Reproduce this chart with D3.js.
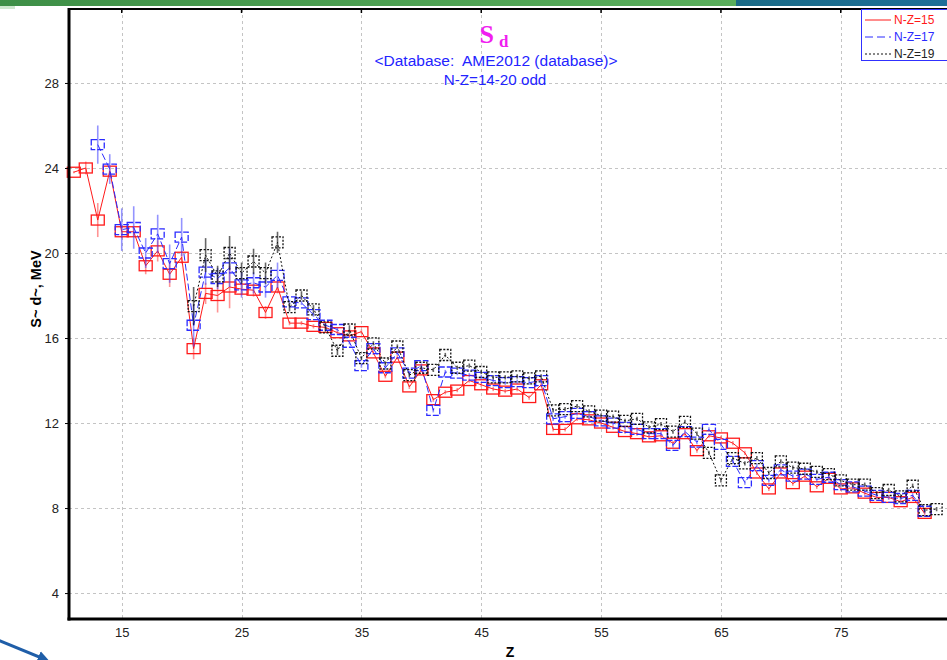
<!DOCTYPE html>
<html>
<head>
<meta charset="utf-8">
<script src="https://cdn.jsdelivr.net/npm/d3@7"></script>
<style>
  html, body { margin: 0; padding: 0; background: #fff; }
  svg { display: block; }
</style>
</head>
<body>
<svg id="chart" width="947" height="660"></svg>
<script>
// Deuteron separation energy S_d (AME2012) for odd N-Z chains
const zTicks = [15, 25, 35, 45, 55, 65, 75];
const yTicks = [4, 8, 12, 16, 20, 24, 28];

// N-Z = 15, Z = 11..82
const zNZ15 = d3.range(11, 83);
const sdNZ15 = [23.8, 24.0, 21.55, 23.85, 21.0, 21.0, 19.4, 20.1, 19.0, 19.8,
  15.5, 18.1, 18.0, 18.4, 18.3, 18.25, 17.2, 18.4, 16.7, 16.7,
  16.55, 16.5, 16.25, 16.1, 16.3, 15.3, 14.2, 15.1, 13.7, 14.5,
  13.1, 13.45, 13.55, 14.0, 13.8, 13.6, 13.5, 13.6, 13.2, 13.8,
  11.7, 11.7, 12.2, 12.15, 12.0, 11.8, 11.6, 11.5, 11.35, 11.4,
  11.05, 11.5, 10.7, 11.4, 11.3, 11.05, 10.6, 9.65, 8.9, 9.65,
  9.15, 9.5, 9.0, 9.4, 8.9, 8.95, 8.7, 8.5, 8.5, 8.3,
  8.5, 7.75];
const errNZ15 = [0.05, 0.3, 0.8, 0.2, 0.3, 0.2, 0.4, 0.5, 0.6, 0.3,
  0.5, 0.5, 0.8, 1.0, 0.3, 0.3, 0.3, 0.3, 0.1, 0.1,
  0.1, 0.1, 0.1, 0.1, 0.1, 0.1, 0.1, 0.1, 0.1, 0.1,
  0.1, 0.1, 0.1, 0.1, 0.1, 0.1, 0.1, 0.1, 0.1, 0.1,
  0.1, 0.1, 0.1, 0.1, 0.1, 0.1, 0.1, 0.1, 0.1, 0.1,
  0.1, 0.1, 0.1, 0.1, 0.1, 0.1, 0.1, 0.1, 0.1, 0.1,
  0.1, 0.1, 0.1, 0.1, 0.1, 0.1, 0.1, 0.1, 0.1, 0.1,
  0.1, 0.1];

// N-Z = 17, Z = 13..82
const zNZ17 = d3.range(13, 83);
const sdNZ17 = [25.1, 23.95, 21.1, 21.2, 20.0, 20.9, 19.5, 20.75,
  16.6, 19.1, 18.8, 19.3, 18.5, 18.6, 18.4, 18.95, 17.7, 17.65,
  17.1, 16.6, 16.4, 15.8, 14.7, 15.5, 14.6, 15.3, 14.35, 14.7,
  12.6, 14.4, 14.35, 14.25, 14.15, 14.0, 13.9, 13.95, 13.9, 14.0,
  12.2, 12.3, 12.45, 12.3, 12.1, 12.0, 11.8, 11.7, 11.5, 11.5,
  10.95, 11.6, 11.1, 11.7, 11.0, 10.2, 9.2, 10.0, 9.3, 9.8,
  9.5, 9.6, 9.35, 9.45, 9.1, 9.0, 8.8, 8.6, 8.5, 8.45,
  8.6, 7.85];
const errNZ17 = [0.9, 0.7, 1.0, 1.0, 0.7, 0.9, 0.9, 0.9,
  1.0, 0.6, 0.5, 0.9, 0.6, 0.5, 0.5, 0.6, 0.1, 0.1,
  0.1, 0.1, 0.1, 0.1, 0.1, 0.1, 0.1, 0.1, 0.1, 0.1,
  0.1, 0.1, 0.1, 0.1, 0.1, 0.1, 0.1, 0.1, 0.1, 0.1,
  0.1, 0.1, 0.1, 0.1, 0.1, 0.1, 0.1, 0.1, 0.1, 0.1,
  0.1, 0.1, 0.1, 0.1, 0.1, 0.1, 0.1, 0.1, 0.1, 0.1,
  0.1, 0.1, 0.1, 0.1, 0.1, 0.1, 0.1, 0.1, 0.1, 0.1,
  0.1, 0.1];

// N-Z = 19, Z = 21..83
const zNZ19 = d3.range(21, 84);
const sdNZ19 = [17.5, 19.9, 18.9, 20.0, 19.05, 19.6, 19.05, 20.5, 17.45, 18.0,
  17.35, 16.5, 15.4, 16.4, 15.05, 15.75, 14.8, 15.6, 14.25, 14.6,
  14.5, 15.2, 14.6, 14.7, 14.4, 14.15, 14.15, 14.2, 14.1, 14.2,
  12.6, 12.65, 12.8, 12.55, 12.35, 12.3, 12.1, 12.2, 11.8, 11.95,
  11.6, 12.05, 11.5, 10.6, 9.3, 10.35, 10.1, 10.35, 9.65, 10.2,
  9.9, 9.85, 9.7, 9.6, 9.3, 9.1, 9.1, 8.7, 8.85, 8.55,
  9.05, 7.9, 7.95];
const errNZ19 = [0.9, 0.8, 0.5, 0.8, 0.5, 0.6, 0.5, 0.5, 0.2, 0.2,
  0.2, 0.2, 0.2, 0.2, 0.1, 0.1, 0.1, 0.1, 0.1, 0.1,
  0.1, 0.1, 0.1, 0.1, 0.1, 0.1, 0.1, 0.1, 0.1, 0.1,
  0.1, 0.1, 0.1, 0.1, 0.1, 0.1, 0.1, 0.1, 0.1, 0.1,
  0.1, 0.1, 0.1, 0.1, 0.1, 0.1, 0.1, 0.1, 0.1, 0.1,
  0.1, 0.1, 0.1, 0.1, 0.1, 0.1, 0.1, 0.1, 0.1, 0.1,
  0.1, 0.1, 0.1];

const seriesNames = ["N-Z=15", "N-Z=17", "N-Z=19"];

const series = [
  { name: seriesNames[0], z: zNZ15, v: sdNZ15, e: errNZ15, color: "#ff1a1a", err: "rgba(255,60,60,0.55)", dash: null, mw: 13, mh: 10, mdash: null },
  { name: seriesNames[1], z: zNZ17, v: sdNZ17, e: errNZ17, color: "#2b2bff", err: "rgba(60,60,255,0.55)", dash: "7,3", mw: 13, mh: 10, mdash: "6,2" },
  { name: seriesNames[2], z: zNZ19, v: sdNZ19, e: errNZ19, color: "#111", err: "rgba(0,0,0,0.6)", dash: "2,2", mw: 11, mh: 11, mdash: "2,1.5" }
];

const svg = d3.select("#chart");
const plot = { left: 69, right: 947, top: 9, bottom: 619 };

const x = d3.scaleLinear().domain([10.6, 84]).range([69, 948.6]);
const y = d3.scaleLinear().domain([2.78, 31.48]).range([619, 9]);

// Header band
const defs = svg.append("defs");
const g1 = defs.append("linearGradient").attr("id", "band").attr("x1", 0).attr("x2", 1);
g1.append("stop").attr("offset", 0).attr("stop-color", "#3e8f47");
g1.append("stop").attr("offset", 1).attr("stop-color", "#5aae5c");
const g2 = defs.append("linearGradient").attr("id", "band2").attr("x1", 0).attr("x2", 1);
g2.append("stop").attr("offset", 0).attr("stop-color", "#1a6a86");
g2.append("stop").attr("offset", 1).attr("stop-color", "#1d6f98");
svg.append("rect").attr("x", 0).attr("y", 0).attr("width", 736).attr("height", 6).attr("fill", "url(#band)");
svg.append("rect").attr("x", 736).attr("y", 0).attr("width", 211).attr("height", 6).attr("fill", "url(#band2)");
svg.append("rect").attr("x", 0).attr("y", 6).attr("width", 15).attr("height", 3).attr("fill", "#cfe8cf");

defs.append("clipPath").attr("id", "clip")
  .append("rect").attr("x", plot.left - 8).attr("y", plot.top).attr("width", plot.right - plot.left + 8).attr("height", plot.bottom - plot.top);

// Grid
const grid = svg.append("g").attr("stroke", "#c4c4c4").attr("stroke-width", 1).attr("stroke-dasharray", "3,3");
grid.selectAll(".gx").data(zTicks).join("line")
  .attr("x1", d => Math.round(x(d)) + 0.5).attr("x2", d => Math.round(x(d)) + 0.5)
  .attr("y1", plot.top).attr("y2", plot.bottom);
grid.selectAll(".gy").data(yTicks).join("line")
  .attr("x1", plot.left).attr("x2", plot.right)
  .attr("y1", d => Math.round(y(d)) + 0.5).attr("y2", d => Math.round(y(d)) + 0.5);

// Data
const data = svg.append("g").attr("clip-path", "url(#clip)");
series.forEach(s => {
  const pts = s.z.map((z, i) => ({ z, v: s.v[i], e: s.e[i] }));
  const g = data.append("g");
  // error bars
  g.selectAll("line.err").data(pts).join("line")
    .attr("x1", d => x(d.z)).attr("x2", d => x(d.z))
    .attr("y1", d => y(d.v + d.e)).attr("y2", d => y(d.v - d.e))
    .attr("stroke", s.err).attr("stroke-width", 1.6);
  // connecting line
  g.append("path").datum(pts)
    .attr("d", d3.line().x(d => x(d.z)).y(d => y(d.v)))
    .attr("fill", "none").attr("stroke", s.color).attr("stroke-width", 1)
    .attr("stroke-dasharray", s.dash);
  // markers
  g.selectAll("rect").data(pts).join("rect")
    .attr("x", d => x(d.z) - s.mw / 2).attr("y", d => y(d.v) - s.mh / 2)
    .attr("width", s.mw).attr("height", s.mh)
    .attr("fill", "none").attr("stroke", s.color).attr("stroke-width", 1.3)
    .attr("stroke-dasharray", s.mdash);
});

// Frame
svg.append("line").attr("x1", plot.left).attr("x2", plot.right).attr("y1", 9).attr("y2", 9)
  .attr("stroke", "#000").attr("stroke-width", 2);
svg.append("line").attr("x1", plot.left).attr("x2", plot.left).attr("y1", 8).attr("y2", 620.5)
  .attr("stroke", "#000").attr("stroke-width", 3);
svg.append("line").attr("x1", plot.left - 1.5).attr("x2", plot.right).attr("y1", 619).attr("y2", 619)
  .attr("stroke", "#000").attr("stroke-width", 3);

// Axes
const yAxis = d3.axisLeft(y).tickValues(yTicks).tickSize(3).tickPadding(6).tickFormat(d3.format("d"));
const ya = svg.append("g").attr("transform", `translate(${plot.left - 1},0)`).call(yAxis);
ya.select(".domain").remove();
ya.selectAll("text").attr("font-family", "Liberation Sans, Arial, sans-serif").attr("font-size", 13).attr("fill", "#222");

const xAxis = d3.axisBottom(x).tickValues(zTicks).tickSize(0).tickPadding(9).tickFormat(d3.format("d"));
const xa = svg.append("g").attr("transform", `translate(0,${plot.bottom})`).call(xAxis);
xa.select(".domain").remove();
xa.selectAll("text").attr("font-family", "Liberation Sans, Arial, sans-serif").attr("font-size", 13).attr("fill", "#222");

// small inward ticks on top frame
svg.append("g").selectAll("line").data(zTicks).join("line")
  .attr("x1", d => x(d)).attr("x2", d => x(d)).attr("y1", 9).attr("y2", 13)
  .attr("stroke", "#000").attr("stroke-width", 1.5);

// Axis titles
svg.append("text").attr("x", 510).attr("y", 657).attr("text-anchor", "middle")
  .attr("font-family", "Liberation Sans, Arial, sans-serif").attr("font-weight", "bold").attr("font-size", 14)
  .text("Z");
svg.append("text").attr("transform", "translate(41,289) rotate(-90)").attr("text-anchor", "middle")
  .attr("font-family", "Liberation Sans, Arial, sans-serif").attr("font-weight", "bold").attr("font-size", 14.5)
  .text("S~ d~, MeV");

// Title
const title = svg.append("text").attr("x", 494).attr("y", 43).attr("text-anchor", "middle")
  .attr("font-family", "Liberation Serif, Times New Roman, serif").attr("font-weight", "bold").attr("fill", "#f01ef0");
title.append("tspan").attr("font-size", 26).text("S");
title.append("tspan").attr("font-size", 17).attr("dx", 5).attr("dy", 4).text("d");

svg.append("text").attr("x", 496).attr("y", 66).attr("text-anchor", "middle")
  .attr("font-family", "Liberation Sans, Arial, sans-serif").attr("font-size", 15.5).attr("fill", "#2323ff")
  .attr("xml:space", "preserve").style("white-space", "pre")
  .text("<Database:  AME2012 (database)>");
svg.append("text").attr("x", 495).attr("y", 85).attr("text-anchor", "middle")
  .attr("font-family", "Liberation Sans, Arial, sans-serif").attr("font-size", 15.2).attr("fill", "#2323ff")
  .text("N-Z=14-20 odd");

// Legend
const lg = svg.append("g");
lg.append("rect").attr("x", 861.5).attr("y", 9.5).attr("width", 95).attr("height", 51)
  .attr("fill", "#fff").attr("stroke", "#3030ff").attr("stroke-width", 1);
series.forEach((s, i) => {
  const ly = 20 + i * 17;
  lg.append("line").attr("x1", 865).attr("x2", 891).attr("y1", ly).attr("y2", ly)
    .attr("stroke", s.color).attr("stroke-width", 1).attr("stroke-dasharray", s.dash ? (i === 1 ? "8,4" : "2,2") : null);
  lg.append("text").attr("x", 894).attr("y", ly + 4)
    .attr("font-family", "Liberation Sans, Arial, sans-serif").attr("font-size", 12)
    .attr("fill", i === 2 ? "#222" : s.color).text(s.name);
});

// Decorative arrow at lower left
defs.append("marker").attr("id", "ah").attr("viewBox", "0 0 10 10").attr("refX", 5).attr("refY", 5)
  .attr("markerWidth", 4).attr("markerHeight", 4).attr("orient", "auto")
  .append("path").attr("d", "M0,0 L10,5 L0,10 z").attr("fill", "#1f5ea8");
svg.append("line").attr("x1", -2).attr("y1", 640).attr("x2", 44).attr("y2", 659)
  .attr("stroke", "#1f5ea8").attr("stroke-width", 3).attr("marker-end", "url(#ah)");
</script>
</body>
</html>
